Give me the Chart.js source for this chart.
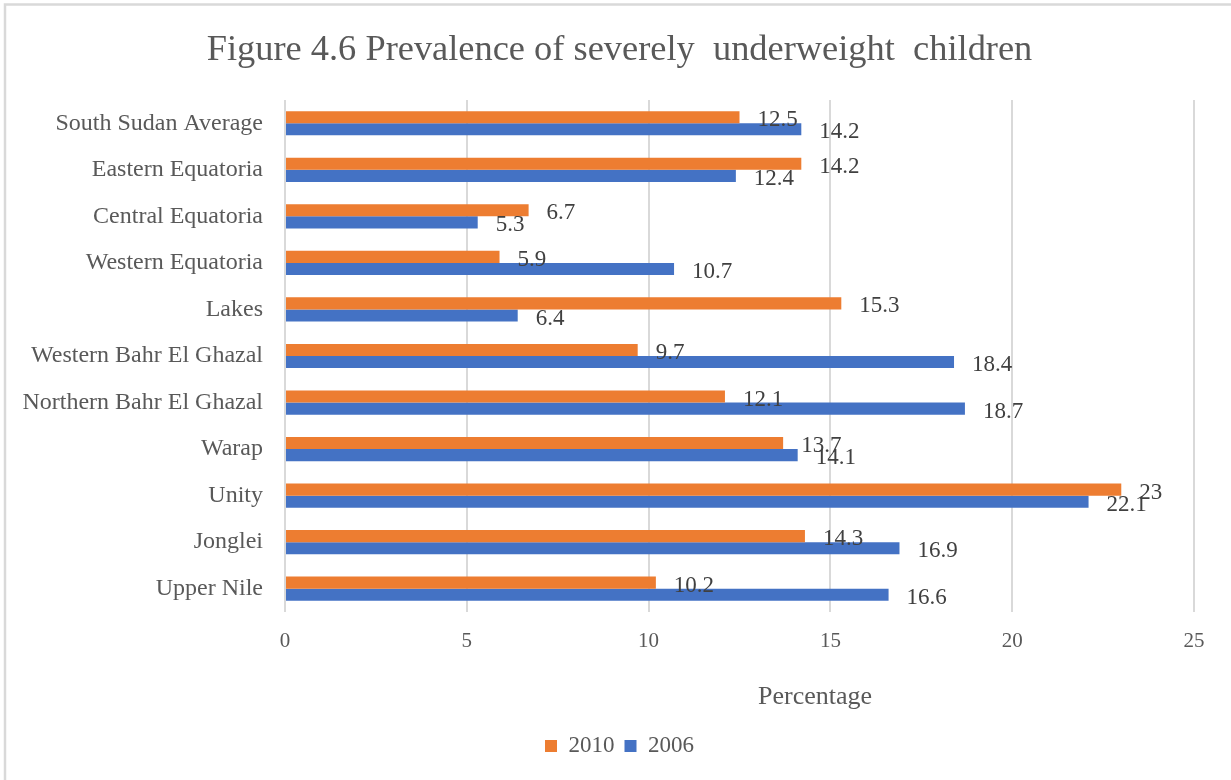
<!DOCTYPE html>
<html>
<head>
<meta charset="utf-8">
<title>Figure 4.6 Prevalence of severely underweight children</title>
<script src="https://cdn.jsdelivr.net/npm/chart.js@4/dist/chart.umd.min.js"></script>
<style>
  html, body { margin: 0; padding: 0; background: #ffffff; }
  #wrap { width: 1231px; height: 780px; }
</style>
</head>
<body>
<div id="wrap"><canvas id="chart" width="1231" height="780"></canvas></div>
<script>
// States of South Sudan, top row first
const categories = [
  'South Sudan Average',
  'Eastern Equatoria',
  'Central Equatoria',
  'Western Equatoria',
  'Lakes',
  'Western Bahr El Ghazal',
  'Northern Bahr El Ghazal',
  'Warap',
  'Unity',
  'Jonglei',
  'Upper Nile'
];
// Percentage of severely underweight children per survey year
const values2010 = [12.5, 14.2, 6.7, 5.9, 15.3, 9.7, 12.1, 13.7, 23, 14.3, 10.2];
const values2006 = [14.2, 12.4, 5.3, 10.7, 6.4, 18.4, 18.7, 14.1, 22.1, 16.9, 16.6];
const seriesNames = ['2010', '2006'];
const xTicks = [0, 5, 10, 15, 20, 25];

const FONT = "'Liberation Serif', 'Times New Roman', serif";
const TEXT = '#595959';

// Thin frame along the top and left edges
const framePlugin = {
  id: 'frame',
  beforeDraw(chart) {
    const ctx = chart.ctx;
    ctx.save();
    ctx.fillStyle = '#ffffff';
    ctx.fillRect(0, 0, chart.width, chart.height);
    ctx.strokeStyle = '#d9d9d9';
    ctx.lineWidth = 2.5;
    ctx.beginPath();
    ctx.moveTo(5, chart.height);
    ctx.lineTo(5, 4.5);
    ctx.lineTo(chart.width, 4.5);
    ctx.stroke();
    ctx.restore();
  }
};

// Value labels just past the end of each bar
const valueLabelPlugin = {
  id: 'valueLabels',
  afterDatasetsDraw(chart) {
    const ctx = chart.ctx;
    ctx.save();
    ctx.font = '23px ' + FONT;
    ctx.fillStyle = '#404040';
    ctx.textAlign = 'left';
    ctx.textBaseline = 'middle';
    chart.data.datasets.forEach((ds, di) => {
      const meta = chart.getDatasetMeta(di);
      meta.data.forEach((bar, i) => {
        ctx.fillText(String(ds.data[i]), bar.x + 18, bar.y + 3);
      });
    });
    ctx.restore();
  }
};

// Axis caption under the value axis
const axisCaptionPlugin = {
  id: 'axisCaption',
  afterDraw(chart, args, opts) {
    const ctx = chart.ctx;
    const area = chart.chartArea;
    ctx.save();
    ctx.font = '26px ' + FONT;
    ctx.fillStyle = TEXT;
    ctx.textAlign = 'center';
    ctx.textBaseline = 'middle';
    ctx.fillText(opts.text, area.left + opts.offsetX, area.bottom + opts.offsetY);
    ctx.restore();
  }
};

new Chart(document.getElementById('chart'), {
  type: 'bar',
  data: {
    labels: categories,
    datasets: [
      {
        label: seriesNames[0],
        data: values2010,
        backgroundColor: '#ED7D31',
        categoryPercentage: 0.52,
        barPercentage: 1.0
      },
      {
        label: seriesNames[1],
        data: values2006,
        backgroundColor: '#4472C4',
        categoryPercentage: 0.52,
        barPercentage: 1.0
      }
    ]
  },
  options: {
    indexAxis: 'y',
    responsive: false,
    devicePixelRatio: 1,
    animation: false,
    layout: { padding: { top: 0, left: 8, right: 0, bottom: 12.5 } },
    scales: {
      x: {
        min: xTicks[0],
        max: xTicks[xTicks.length - 1],
        afterBuildTicks(scale) {
          scale.ticks = xTicks.map(v => ({ value: v }));
        },
        afterFit(scale) { scale.height = 112.5; },
        grid: { color: '#d9d9d9', lineWidth: 2, drawTicks: false },
        border: { display: false },
        ticks: {
          padding: 17,
          color: TEXT,
          font: { family: FONT, size: 21 }
        }
      },
      y: {
        afterFit(scale) { scale.width = 277; },
        grid: { display: false, drawTicks: false },
        border: { display: false },
        ticks: {
          padding: 22,
          color: TEXT,
          font: { family: FONT, size: 24 }
        }
      },
      // empty margin on the right of the plot
      yRight: {
        type: 'category',
        position: 'right',
        afterFit(scale) { scale.width = 37; },
        grid: { display: false, drawTicks: false },
        border: { display: false },
        ticks: { display: false }
      }
    },
    plugins: {
      title: {
        display: true,
        text: 'Figure 4.6 Prevalence of severely  underweight  children',
        color: TEXT,
        font: { family: FONT, size: 36.4, weight: 'normal' },
        padding: { top: 29, bottom: 27.3 }
      },
      legend: {
        position: 'bottom',
        labels: {
          color: TEXT,
          font: { family: FONT, size: 23 },
          boxWidth: 12,
          boxHeight: 12,
          padding: 10
        }
      },
      tooltip: { enabled: false },
      axisCaption: { text: 'Percentage', offsetX: 530, offsetY: 85 }
    }
  },
  plugins: [framePlugin, valueLabelPlugin, axisCaptionPlugin]
});
</script>
</body>
</html>
